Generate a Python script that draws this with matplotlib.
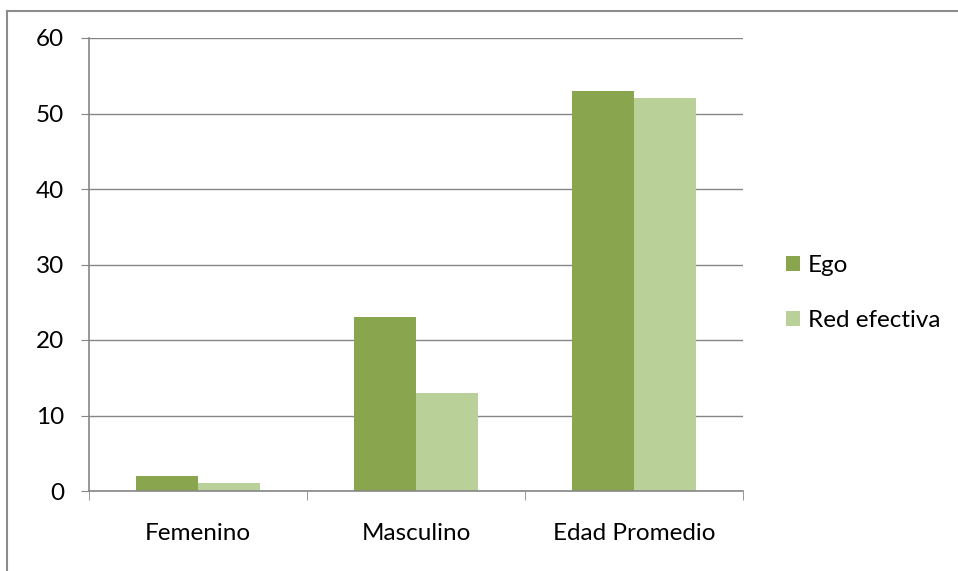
import matplotlib
matplotlib.use("Agg")
import matplotlib.pyplot as plt
import matplotlib.patheffects as pe
import numpy as np
from matplotlib.lines import Line2D

categories = ["Femenino", "Masculino", "Edad Promedio"]
ego = [2, 23, 53]
red_efectiva = [1, 13, 52]
series_names = ["Ego", "Red efectiva"]
yticks = [0, 10, 20, 30, 40, 50, 60]
caption = "Figura 3. Distribución de género y edad promedio de actores de ego y red efectiva"

plt.rcParams["font.family"] = ["Lato", "DejaVu Sans"]

fig = plt.figure(figsize=(9.58, 5.71), dpi=100)
ax = fig.add_axes([89 / 958, 80 / 571, 654 / 958, 453 / 571])

x = np.arange(len(categories))
width = 62 / 218
ax.bar(x - width / 2, ego, width, color="#89A54E", label=series_names[0])
ax.bar(x + width / 2, red_efectiva, width, color="#B9D198", label=series_names[1])

ax.set_xlim(-0.5, len(categories) - 0.5)
ax.set_ylim(0, 60)
ax.set_yticks(yticks)
ax.yaxis.grid(True, color="#868686", linewidth=1)
ax.set_axisbelow(True)

ax.set_xticks(x)
ax.set_xticklabels(categories)
ax.set_xticks(np.arange(len(categories) + 1) - 0.5, minor=True)
ax.tick_params(axis="x", which="major", length=0, pad=23, labelsize=17.5)
ax.tick_params(axis="x", which="minor", length=6.5, color="#868686", direction="out")
ax.tick_params(axis="y", length=6, color="#868686", labelsize=17.5, pad=12)

for side in ["top", "right"]:
    ax.spines[side].set_visible(False)
for side in ["left", "bottom"]:
    ax.spines[side].set_color("#868686")
    ax.spines[side].set_linewidth(1.2)

ax.legend(loc="center left", bbox_to_anchor=(776 / 958, 1 - 293 / 571),
          bbox_transform=fig.transFigure, frameon=False, fontsize=17.5,
          handlelength=0.6, handleheight=0.6, handletextpad=0.3,
          labelspacing=1.4, borderaxespad=0)

# outer chart frame
fig.add_artist(Line2D([7 / 958, 7 / 958], [0, 1 - 10.5 / 571], color="#8C8C8C",
                      linewidth=1.5, transform=fig.transFigure))
fig.add_artist(Line2D([7 / 958, 1], [1 - 10.5 / 571, 1 - 10.5 / 571], color="#8C8C8C",
                      linewidth=1.5, transform=fig.transFigure))

# caption above the chart: only its lower edge shows in the source.
# drawn as a path so the top edge of the canvas cuts it off
fig.text(10 / 958, 1 + 15 / 571, caption, family="Liberation Serif", fontsize=20,
         va="baseline", ha="left", path_effects=[pe.Normal()])

fig.savefig("out.png", dpi=100)
